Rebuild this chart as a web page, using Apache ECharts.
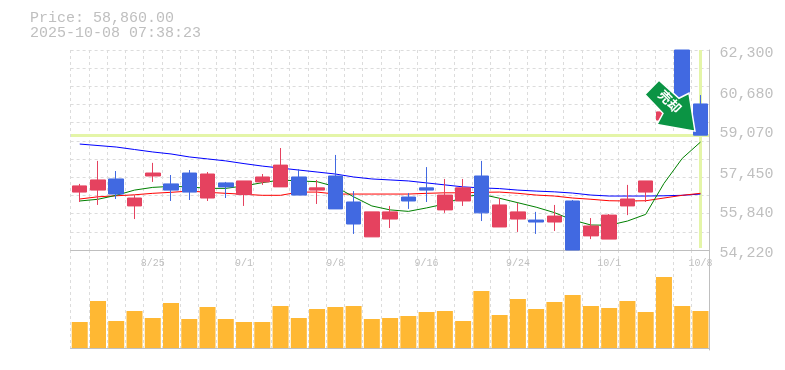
<!DOCTYPE html>
<html>
<head>
<meta charset="utf-8">
<style>html,body{margin:0;padding:0;background:#fff}#c{width:785px;height:370px}</style>
<script src="https://cdn.jsdelivr.net/npm/echarts@6/dist/echarts.min.js"></script>
</head>
<body>
<div id="c"></div>
<script>
var dates = ['8/19','8/20','8/21','8/22','8/25','8/26','8/27','8/28','8/29','9/1','9/2','9/3','9/4','9/5','9/8','9/9','9/10','9/11','9/12','9/16','9/17','9/18','9/19','9/22','9/24','9/25','9/26','9/29','9/30','10/1','10/2','10/3','10/6','10/7','10/8'];
var dateLabels = ['8/25','9/1','9/8','9/16','9/24','10/1','10/8'];
var priceLabels = [54220,55840,57450,59070,60680,62300];
var opens  = [56560,56640,57090,56000,57210,56890,57330,56320,56930,56460,56970,56770,57170,56640,57210,56160,54750,55470,56360,56730,55840,56200,57210,55150,55470,55430,55350,56200,54790,54660,56000,56560,59470,62300,60120];
var closes = [56810,57050,56480,56320,57330,56640,56560,57290,56770,57010,57170,57650,56440,56730,55880,55270,55760,55760,56200,56640,56440,56730,55720,56040,55760,55350,55590,54220,55190,55630,56280,57010,59800,60280,58860];
var lows   = [56160,56040,56280,55470,56970,56200,56240,56200,56320,56000,56850,56770,56440,56080,55880,54870,54750,55110,55880,56160,55720,56000,55390,55150,54950,54870,54990,54220,54660,54660,55630,56160,59300,60100,58860];
var highs  = [56890,57820,57410,56440,57740,57250,57450,57370,56970,57010,57290,58340,57490,57050,58060,56600,55760,56000,56520,57570,57090,57090,57820,56320,56120,55760,56040,56240,55510,55670,56850,57010,60300,62300,60480];
var maBlue  = [58500,58440,58380,58280,58180,58100,57980,57900,57820,57710,57610,57530,57450,57370,57290,57170,57090,57050,57010,56930,56850,56770,56730,56700,56640,56600,56570,56520,56440,56400,56400,56400,56410,56430,56480];
var maRed   = [56280,56370,56410,56450,56510,56550,56600,56550,56510,56470,56430,56430,56560,56560,56480,56480,56480,56480,56480,56510,56530,56530,56550,56560,56510,56440,56400,56320,56270,56210,56200,56210,56320,56430,56510];
var maGreen = [56200,56270,56430,56640,56750,56790,56770,56710,56710,56810,56940,57050,57010,56980,56780,56370,56000,55840,55780,55920,56080,56360,56470,56310,56130,55950,55730,55430,55230,55220,55390,55660,56910,57920,58580];
var volumes = [78,141,81,111,90,135,87,123,87,78,78,126,90,117,123,126,87,90,96,108,111,81,171,99,147,117,138,159,126,120,141,108,213,126,111];
var currentPrice = 58860;
var priceMin = 54220, priceMax = 62300;
var headerText = 'Price: 58,860.00\n2025-10-08 07:38:23';
var arrowText = '売却';

var FONT = '"Liberation Mono", monospace';
var GREY = '#bfbfbf', DASH = '#dcdcdc';
var RED = '#e5425f', BLUE = '#4169e1';
var candles = dates.map(function (d, i) { return [opens[i], closes[i], lows[i], highs[i]]; });
var splitX = { show: true, interval: 0, lineStyle: { color: DASH, type: [3, 3], width: 1 } };

function maSeries(name, data, color) {
  return { name: name, type: 'line', xAxisIndex: 0, yAxisIndex: 0, data: data, symbol: 'none', silent: true,
    z: 2, lineStyle: { color: color, width: 1 } };
}

var chart = echarts.init(document.getElementById('c'), null, { renderer: 'canvas' });
chart.setOption({
  animation: false,
  backgroundColor: '#fff',
  title: { text: headerText, left: 30, top: 11, padding: 0,
    textStyle: { fontFamily: FONT, fontSize: 15, lineHeight: 15, fontWeight: 'normal', color: GREY } },
  grid: [
    { left: 70.6, top: 50, width: 639, height: 200 },
    { left: 70.6, top: 250, width: 639, height: 100 }
  ],
  xAxis: [
    { type: 'category', gridIndex: 0, data: dates, boundaryGap: true,
      axisLine: { show: true, lineStyle: { color: GREY, width: 1 } }, axisTick: { show: false },
      splitLine: splitX,
      axisLabel: { show: true, interval: 0, margin: 8, color: GREY, fontFamily: FONT, fontSize: 10, hideOverlap: false,
        formatter: function (v) { return dateLabels.indexOf(v) >= 0 ? v : ''; } } },
    { type: 'category', gridIndex: 1, data: dates, boundaryGap: true,
      axisLine: { show: true, lineStyle: { color: GREY, width: 1 } }, axisTick: { show: false },
      splitLine: splitX, axisLabel: { show: false } }
  ],
  yAxis: [
    { type: 'value', gridIndex: 0, position: 'right', min: priceMin, max: priceMax, scale: true,
      axisLine: { show: true, lineStyle: { color: GREY, width: 1 } }, axisTick: { show: false }, splitLine: { show: false },
      axisLabel: { show: true, customValues: priceLabels, margin: 10, color: GREY, fontFamily: FONT, fontSize: 15,
        verticalAlign: 'top', lineHeight: 7,
        formatter: function (v) { return String(v).replace(/(\d)(\d{3})$/, '$1,$2'); } } },
    { type: 'value', gridIndex: 0, position: 'left', min: 0, max: 11, interval: 1,
      axisLine: { show: false }, axisTick: { show: false }, axisLabel: { show: false },
      splitLine: { show: true, lineStyle: { color: DASH, type: [3, 3], width: 1 } } },
    { type: 'value', gridIndex: 1, position: 'right', min: -6, max: 294,
      axisLine: { show: true, lineStyle: { color: GREY, width: 1 } }, axisTick: { show: false },
      axisLabel: { show: false }, splitLine: { show: false } }
  ],
  series: [
    maSeries('MA long', maBlue, '#0000ff'),
    maSeries('MA mid', maRed, '#ff0000'),
    maSeries('MA short', maGreen, '#008000'),
    { name: 'Price', type: 'candlestick', xAxisIndex: 0, yAxisIndex: 0, data: candles, barWidth: 15, z: 3, clip: true, silent: true,
      itemStyle: { color: RED, color0: BLUE, borderColor: RED, borderColor0: BLUE, borderWidth: 1 },
      markLine: { silent: true, symbol: 'none', z: 1, animation: false, label: { show: false },
        lineStyle: { color: '#e4f5a8', width: 3, type: 'solid' },
        data: [
          [{ coord: [dates[0], currentPrice], x: 71 }, { coord: [dates[dates.length - 1], currentPrice], x: 709 }],
          [{ coord: [dates[dates.length - 1], priceMax] }, { coord: [dates[dates.length - 1], 54300] }]
        ] },
      markPoint: { silent: true, z: 10, animation: false,
        data: [{
          coord: [dates[dates.length - 1], currentPrice],
          symbol: 'path://M14 0L0 14.3L18 33L12 44L50 50.7L44 13L34 18Z',
          symbolSize: [50, 51], symbolOffset: [-30.5, -29.5], symbolKeepAspect: false,
          itemStyle: { color: '#0b9444', borderColor: '#fff', borderWidth: 1.5 },
          label: { show: true, position: 'inside', formatter: arrowText, rotate: -45, offset: [-3, -3],
            color: '#fff', fontSize: 13, fontWeight: 'bold', fontFamily: '"Noto Sans CJK JP"' }
        }] } },
    { name: 'Volume', type: 'bar', xAxisIndex: 1, yAxisIndex: 2, data: volumes, barWidth: 16, silent: true,
      itemStyle: { color: '#ffb833' } }
  ]
});
</script>
</body>
</html>
